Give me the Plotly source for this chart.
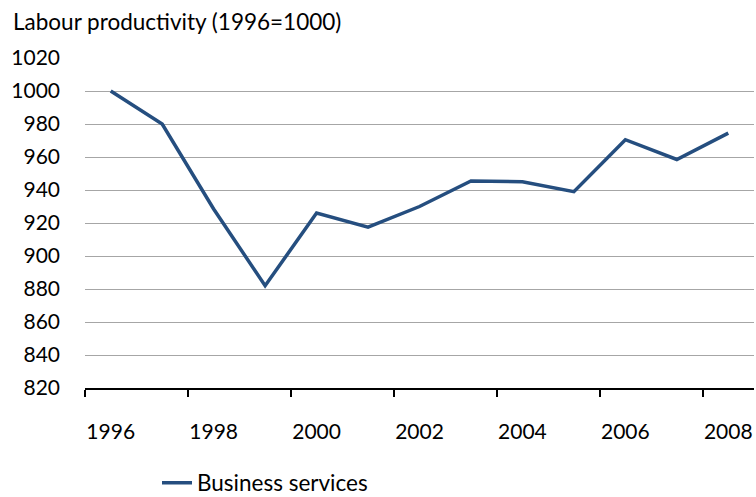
import plotly.graph_objects as go

years = list(range(1996, 2009))
business_services = [1000, 980, 928.5, 882, 926, 917.5, 930, 945.5, 945, 939, 970.5, 958.5, 974.5]
label_years = [1996, 1998, 2000, 2002, 2004, 2006, 2008]
y_ticks = list(range(820, 1021, 20))

FONT = "Lato, Calibri, Arial, sans-serif"
LINE_BLUE = "#254E7F"

fig = go.Figure()
fig.add_trace(go.Scatter(
    x=years, y=business_services, mode="lines",
    name="Business services",
    line=dict(color=LINE_BLUE, width=3.5),
))

fig.update_layout(
    width=756, height=497,
    margin=dict(l=85, r=2, t=58, b=109, autoexpand=False),
    paper_bgcolor="white", plot_bgcolor="white",
    font=dict(family=FONT, size=21, color="#000000"),
    showlegend=True,
    legend=dict(orientation="h", xref="container", yref="container",
                x=157 / 756, xanchor="left", y=1 - 483 / 497, yanchor="middle",
                font=dict(size=22.5), itemwidth=30, bgcolor="rgba(0,0,0,0)"),
    annotations=[dict(
        text="Labour productivity (1996=1000)", xref="paper", yref="paper",
        x=-74 / 669, y=1 + 36 / 330, xanchor="left", yanchor="middle",
        showarrow=False, font=dict(size=22.5),
    )],
)

fig.update_xaxes(
    range=[1995.5, 2008.5], tickmode="array", tickvals=label_years,
    ticks="", ticklabelstandoff=24,
    showline=True, linecolor="#000000", linewidth=1.5,
    showgrid=False, zeroline=False,
    minor=dict(tickmode="array", tickvals=[1995.5 + 2 * i for i in range(7)],
               ticks="outside", ticklen=7, tickwidth=1.5, tickcolor="#000000", showgrid=False),
)
fig.update_yaxes(
    range=[820, 1020], tickmode="array", tickvals=y_ticks,
    ticks="", ticklabelstandoff=24,
    showgrid=True, gridcolor="#A6A6A6", gridwidth=1,
    showline=False, zeroline=False,
)

fig.write_html("out.html")
